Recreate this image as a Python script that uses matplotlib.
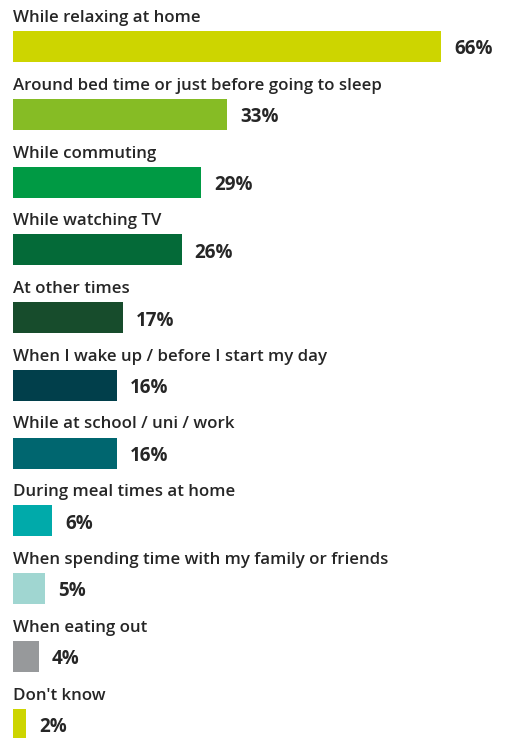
import matplotlib
matplotlib.use("Agg")
import matplotlib.pyplot as plt

categories = [
    "While relaxing at home",
    "Around bed time or just before going to sleep",
    "While commuting",
    "While watching TV",
    "At other times",
    "When I wake up / before I start my day",
    "While at school / uni / work",
    "During meal times at home",
    "When spending time with my family or friends",
    "When eating out",
    "Don't know",
]
values = [66, 33, 29, 26, 17, 16, 16, 6, 5, 4, 2]
colors = [
    "#CDD500", "#86BC25", "#009A44", "#046A38", "#174C2C", "#013F4B",
    "#00666F", "#00AAAA", "#A0D6D1", "#97999B", "#CDD500",
]

W, H, DPI = 509, 738, 100
fig = plt.figure(figsize=(W / DPI, H / DPI), dpi=DPI)
ax = fig.add_axes([0, 0, 1, 1])

px_per_unit = 6.485   # horizontal pixels per percentage point
left_px = 13
row_px = 67.75
first_center_px = 46.5

ax.set_xlim(-left_px / px_per_unit, (W - left_px) / px_per_unit)
ax.set_ylim((H - first_center_px) / row_px, -first_center_px / row_px)
ax.axis("off")

bar_h = 31 / row_px
text_color = "#262626"
font = "Open Sans"

ys = list(range(len(categories)))
ax.barh(ys, values, height=bar_h, color=colors, left=0)

for y, cat, v in zip(ys, categories, values):
    ax.text(0, y - (bar_h / 2 + 9 / row_px), cat, family=font, fontsize=12.2,
            fontweight="semibold", color=text_color, va="baseline", ha="left")
    ax.text(v + 13 / px_per_unit, y + 8 / row_px, f"{v}%", family=font,
            fontsize=13.5, fontweight="bold", color=text_color,
            va="baseline", ha="left")

fig.savefig("out.png", dpi=DPI, facecolor="white")
